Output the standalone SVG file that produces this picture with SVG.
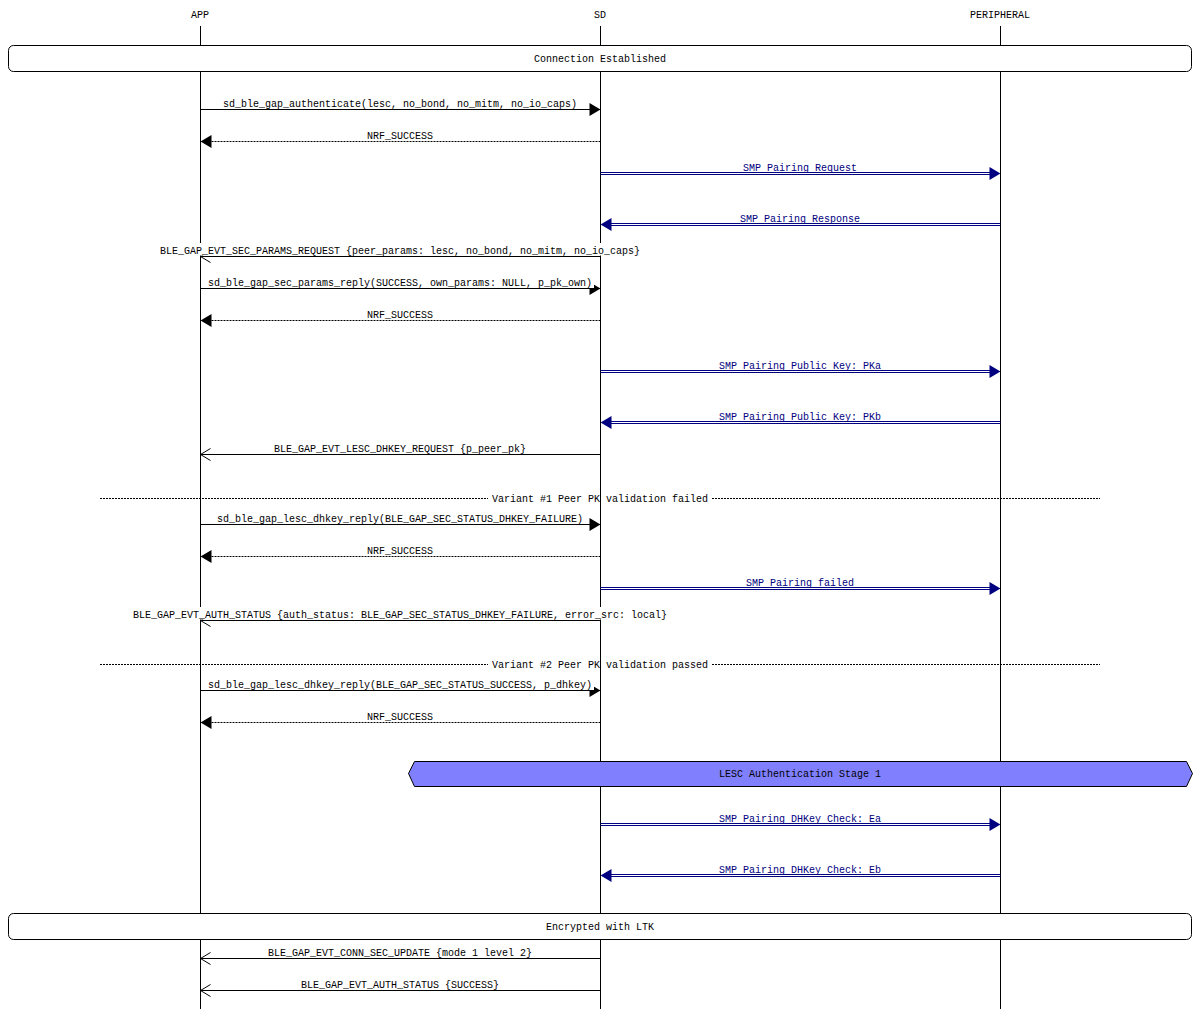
<svg xmlns="http://www.w3.org/2000/svg" width="1200" height="1009" viewBox="0 0 1200 1009">
<style>
.t{font-family:"Liberation Mono","DejaVu Sans Mono",monospace;font-size:10px;text-anchor:middle;fill:#000}
.tb{fill:#000080}
.ll{stroke:#000;stroke-width:1;fill:none}
.m{stroke:#000;stroke-width:1;fill:none}
.dot{stroke-dasharray:2,1}
.dbl{stroke:#000080;stroke-width:1;fill:none}
.hd{stroke:none;fill:none}
.bg{fill:#fff;stroke:none}
.box{fill:#fff;stroke:#000;stroke-width:1}
.hex{fill:#8080ff;stroke:#000;stroke-width:1}
.div{stroke:#000;stroke-width:1;stroke-dasharray:2,1}
</style>
<defs>
<marker id="fa" markerUnits="userSpaceOnUse" markerWidth="12" markerHeight="14" refX="11" refY="6.5" orient="auto" overflow="visible"><path d="M0,0 L11,6.5 L0,13 z" fill="#000"/></marker>
<marker id="fb" markerUnits="userSpaceOnUse" markerWidth="12" markerHeight="14" refX="11" refY="6.5" orient="auto" overflow="visible"><path d="M0,0 L11,6.5 L0,13 z" fill="#000080"/></marker>
<marker id="oa" markerUnits="userSpaceOnUse" markerWidth="12" markerHeight="14" refX="10" refY="6" orient="auto" overflow="visible"><path d="M0,0 L10,6 L0,12" fill="none" stroke="#000" stroke-width="1"/></marker>
</defs>

<g id="lifelines">
<g id="APP"><text class="t" x="200" y="18">APP</text><line class="ll" x1="200.5" y1="26" x2="200.5" y2="1009"/></g>
<g id="SD"><text class="t" x="600" y="18">SD</text><line class="ll" x1="600.5" y1="26" x2="600.5" y2="1009"/></g>
<g id="PERIPHERAL"><text class="t" x="1000" y="18">PERIPHERAL</text><line class="ll" x1="1000.5" y1="26" x2="1000.5" y2="1009"/></g>
</g>

<g id="boxes">
<g id="box-connection"><rect class="box" x="8.5" y="45.5" width="1183" height="26" rx="5" ry="5"/><text class="t" x="600" y="62">Connection Established</text></g>
<g id="box-lesc"><polygon class="hex" points="408.5,773.5 414.5,761.5 1186.5,761.5 1192.5,773.5 1186.5,786.5 414.5,786.5"/><text class="t" x="800" y="777">LESC Authentication Stage 1</text></g>
<g id="box-encrypted"><rect class="box" x="8.5" y="913.5" width="1183" height="26" rx="5" ry="5"/><text class="t" x="600" y="930">Encrypted with LTK</text></g>
</g>

<g id="dividers">
<g id="div1"><line class="div" x1="100" y1="498.5" x2="488" y2="498.5"/><line class="div" x1="712" y1="498.5" x2="1100" y2="498.5"/><text class="t" x="600" y="502">Variant #1 Peer PK validation failed</text></g>
<g id="div2"><line class="div" x1="100" y1="664.5" x2="488" y2="664.5"/><line class="div" x1="712" y1="664.5" x2="1100" y2="664.5"/><text class="t" x="600" y="668">Variant #2 Peer PK validation passed</text></g>
</g>

<g id="connectors">
<line class="m" x1="200.5" y1="109.5" x2="600.5" y2="109.5" marker-end="url(#fa)"/>
<line class="m dot" x1="600.5" y1="141.5" x2="200.5" y2="141.5" marker-end="url(#fa)"/>
<line class="dbl" x1="600.5" y1="172.5" x2="990" y2="172.5"/><line class="dbl" x1="600.5" y1="174.5" x2="990" y2="174.5"/><line class="hd" x1="600.5" y1="173.5" x2="1000.5" y2="173.5" marker-end="url(#fb)"/>
<line class="dbl" x1="1000.5" y1="223.5" x2="611" y2="223.5"/><line class="dbl" x1="1000.5" y1="225.5" x2="611" y2="225.5"/><line class="hd" x1="1000.5" y1="224.5" x2="600.5" y2="224.5" marker-end="url(#fb)"/>
<line class="m" x1="600.5" y1="256.5" x2="200.5" y2="256.5" marker-end="url(#oa)"/>
<line class="m" x1="200.5" y1="288.5" x2="600.5" y2="288.5" marker-end="url(#fa)"/>
<line class="m dot" x1="600.5" y1="320.5" x2="200.5" y2="320.5" marker-end="url(#fa)"/>
<line class="dbl" x1="600.5" y1="370.5" x2="990" y2="370.5"/><line class="dbl" x1="600.5" y1="372.5" x2="990" y2="372.5"/><line class="hd" x1="600.5" y1="371.5" x2="1000.5" y2="371.5" marker-end="url(#fb)"/>
<line class="dbl" x1="1000.5" y1="421.5" x2="611" y2="421.5"/><line class="dbl" x1="1000.5" y1="423.5" x2="611" y2="423.5"/><line class="hd" x1="1000.5" y1="422.5" x2="600.5" y2="422.5" marker-end="url(#fb)"/>
<line class="m" x1="600.5" y1="454.5" x2="200.5" y2="454.5" marker-end="url(#oa)"/>
<line class="m" x1="200.5" y1="524.5" x2="600.5" y2="524.5" marker-end="url(#fa)"/>
<line class="m dot" x1="600.5" y1="556.5" x2="200.5" y2="556.5" marker-end="url(#fa)"/>
<line class="dbl" x1="600.5" y1="587.5" x2="990" y2="587.5"/><line class="dbl" x1="600.5" y1="589.5" x2="990" y2="589.5"/><line class="hd" x1="600.5" y1="588.5" x2="1000.5" y2="588.5" marker-end="url(#fb)"/>
<line class="m" x1="600.5" y1="620.5" x2="200.5" y2="620.5" marker-end="url(#oa)"/>
<line class="m" x1="200.5" y1="690.5" x2="600.5" y2="690.5" marker-end="url(#fa)"/>
<line class="m dot" x1="600.5" y1="722.5" x2="200.5" y2="722.5" marker-end="url(#fa)"/>
<line class="dbl" x1="600.5" y1="823.5" x2="990" y2="823.5"/><line class="dbl" x1="600.5" y1="825.5" x2="990" y2="825.5"/><line class="hd" x1="600.5" y1="824.5" x2="1000.5" y2="824.5" marker-end="url(#fb)"/>
<line class="dbl" x1="1000.5" y1="874.5" x2="611" y2="874.5"/><line class="dbl" x1="1000.5" y1="876.5" x2="611" y2="876.5"/><line class="hd" x1="1000.5" y1="875.5" x2="600.5" y2="875.5" marker-end="url(#fb)"/>
<line class="m" x1="600.5" y1="958.5" x2="200.5" y2="958.5" marker-end="url(#oa)"/>
<line class="m" x1="600.5" y1="990.5" x2="200.5" y2="990.5" marker-end="url(#oa)"/>
</g>

<g id="labels">
<rect class="bg" x="219" y="97" width="364" height="12"/><text class="t" x="400" y="107">sd_ble_gap_authenticate(lesc, no_bond, no_mitm, no_io_caps)</text>
<rect class="bg" x="365" y="129" width="70" height="12"/><text class="t" x="400" y="139">NRF_SUCCESS</text>
<rect class="bg" x="741" y="160" width="118" height="12"/><text class="t tb" x="800" y="170.5">SMP Pairing Request</text>
<rect class="bg" x="738" y="211" width="124" height="12"/><text class="t tb" x="800" y="221.5">SMP Pairing Response</text>
<rect class="bg" x="158" y="243" width="484" height="12.5"/><text class="t" x="400" y="254">BLE_GAP_EVT_SEC_PARAMS_REQUEST {peer_params: lesc, no_bond, no_mitm, no_io_caps}</text>
<rect class="bg" x="206" y="276" width="388" height="12"/><text class="t" x="400" y="286">sd_ble_gap_sec_params_reply(SUCCESS, own_params: NULL, p_pk_own)</text>
<rect class="bg" x="365" y="308" width="70" height="12"/><text class="t" x="400" y="318">NRF_SUCCESS</text>
<rect class="bg" x="717" y="358" width="166" height="12"/><text class="t tb" x="800" y="368.5">SMP Pairing Public Key: PKa</text>
<rect class="bg" x="717" y="409" width="166" height="12"/><text class="t tb" x="800" y="419.5">SMP Pairing Public Key: PKb</text>
<rect class="bg" x="272" y="442" width="256" height="12"/><text class="t" x="400" y="452">BLE_GAP_EVT_LESC_DHKEY_REQUEST {p_peer_pk}</text>
<rect class="bg" x="215" y="512" width="370" height="12"/><text class="t" x="400" y="522">sd_ble_gap_lesc_dhkey_reply(BLE_GAP_SEC_STATUS_DHKEY_FAILURE)</text>
<rect class="bg" x="365" y="544" width="70" height="12"/><text class="t" x="400" y="554">NRF_SUCCESS</text>
<rect class="bg" x="744" y="575" width="112" height="12"/><text class="t tb" x="800" y="585.5">SMP Pairing failed</text>
<rect class="bg" x="131" y="607" width="538" height="12.5"/><text class="t" x="400" y="618">BLE_GAP_EVT_AUTH_STATUS {auth_status: BLE_GAP_SEC_STATUS_DHKEY_FAILURE, error_src: local}</text>
<rect class="bg" x="206" y="678" width="388" height="12"/><text class="t" x="400" y="688">sd_ble_gap_lesc_dhkey_reply(BLE_GAP_SEC_STATUS_SUCCESS, p_dhkey)</text>
<rect class="bg" x="365" y="710" width="70" height="12"/><text class="t" x="400" y="720">NRF_SUCCESS</text>
<rect class="bg" x="717" y="811" width="166" height="12"/><text class="t tb" x="800" y="821.5">SMP Pairing DHKey Check: Ea</text>
<rect class="bg" x="717" y="862" width="166" height="12"/><text class="t tb" x="800" y="872.5">SMP Pairing DHKey Check: Eb</text>
<rect class="bg" x="266" y="946" width="268" height="12"/><text class="t" x="400" y="956">BLE_GAP_EVT_CONN_SEC_UPDATE {mode 1 level 2}</text>
<rect class="bg" x="299" y="978" width="202" height="12"/><text class="t" x="400" y="988">BLE_GAP_EVT_AUTH_STATUS {SUCCESS}</text>
</g>
</svg>
